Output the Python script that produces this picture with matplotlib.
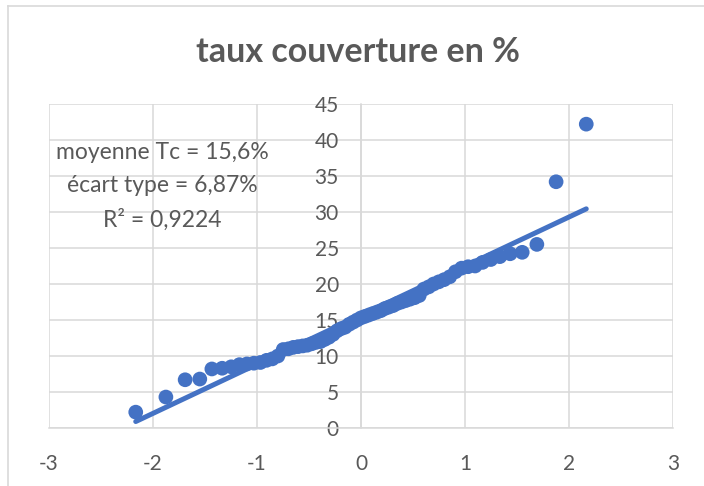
import numpy as np
import matplotlib
matplotlib.use("Agg")
import matplotlib.pyplot as plt
from matplotlib.lines import Line2D

# ── data ──────────────────────────────────────────────────────────────────────

# theoretical normal quantiles (65 observations)
z_neg = [-2.166, -1.876, -1.691, -1.550, -1.434, -1.335, -1.248, -1.169,
         -1.097, -1.030, -0.967, -0.908, -0.853, -0.799, -0.748, -0.698,
         -0.651, -0.605, -0.560, -0.516, -0.473, -0.431, -0.390, -0.349,
         -0.309, -0.269, -0.230, -0.191, -0.153, -0.114, -0.076, -0.038]
quantiles = z_neg + [0.0] + [-v for v in reversed(z_neg)]

# sorted coverage rates (%)
taux = [2.2, 4.3, 6.7, 6.8, 8.2, 8.3, 8.5, 8.8, 8.9, 9.0,
        9.1, 9.4, 9.6, 10.0, 10.9, 11.0, 11.2, 11.3, 11.4, 11.5,
        11.7, 11.9, 12.0, 12.3, 12.6, 13.0, 13.5, 13.8, 14.0, 14.4,
        14.7, 15.0, 15.3, 15.5, 15.7, 15.9, 16.1, 16.3, 16.6, 16.8,
        17.0, 17.3, 17.5, 17.7, 17.9, 18.1, 18.4, 19.3, 19.6, 20.0,
        20.3, 20.6, 21.0, 21.7, 22.2, 22.4, 22.5, 23.0, 23.4, 23.8,
        24.2, 24.4, 25.5, 34.2, 42.2]

x_ticks = [-3, -2, -1, 0, 1, 2, 3]
y_ticks = [0, 5, 10, 15, 20, 25, 30, 35, 40, 45]

TITLE = "taux couverture en %"
NOTE = "moyenne Tc = 15,6%\nécart type = 6,87%\nR² = 0,9224"

BLUE = "#4472C4"
GREY_TXT = "#595959"
GRID = "#D9D9D9"

plt.rcParams["font.family"] = ["Lato", "DejaVu Sans"]

# ── figure ────────────────────────────────────────────────────────────────────

fig = plt.figure(figsize=(7.04, 4.86), dpi=100)
ax = fig.add_axes([49 / 704, 1 - 428 / 486, 624 / 704, 324 / 486])

x = np.array(quantiles)
y = np.array(taux)

ax.scatter(x, y, s=112, color=BLUE, edgecolors="none", zorder=3)

# linear trendline
slope, intercept = np.polyfit(x, y, 1)
xl = np.array([x.min(), x.max()])
ax.plot(xl, intercept + slope * xl, color=BLUE, linewidth=3.6,
        solid_capstyle="round", zorder=4)

ax.set_xlim(x_ticks[0], x_ticks[-1])
ax.set_ylim(y_ticks[0], y_ticks[-1])
ax.set_xticks(x_ticks)
ax.set_yticks(y_ticks)
ax.set_xticklabels([str(v) for v in x_ticks])
ax.set_yticklabels([str(v) for v in y_ticks])

ax.grid(True, color=GRID, linewidth=1.1, zorder=0)
ax.set_axisbelow(True)
for s in ["top", "right"]:
    ax.spines[s].set_visible(False)
ax.spines["bottom"].set_color(GRID)
ax.spines["bottom"].set_linewidth(1.1)
ax.spines["left"].set_position(("data", 0))
ax.spines["left"].set_color(GRID)
ax.spines["left"].set_linewidth(1.1)

ax.tick_params(axis="y", length=0, pad=16, labelsize=15, labelcolor=GREY_TXT)
ax.tick_params(axis="x", length=0, pad=19, labelsize=15, labelcolor=GREY_TXT)

ax.text(-1.91, 33.6, NOTE, ha="center", va="center", fontsize=16.5,
        color=GREY_TXT, linespacing=1.7, zorder=5)

fig.text(0.508, 1 - 52 / 486, TITLE, ha="center", va="center",
         fontsize=24.5, fontweight="bold", color=GREY_TXT)

# chart frame (light grey, partly cropped in the original)
fig.add_artist(Line2D([8 / 704, 8 / 704], [0, 1 - 6 / 486],
                      transform=fig.transFigure, color=GRID, linewidth=1.2))
fig.add_artist(Line2D([8 / 704, 1], [1 - 6 / 486, 1 - 6 / 486],
                      transform=fig.transFigure, color=GRID, linewidth=1.2))

fig.savefig("out.png", dpi=100)
